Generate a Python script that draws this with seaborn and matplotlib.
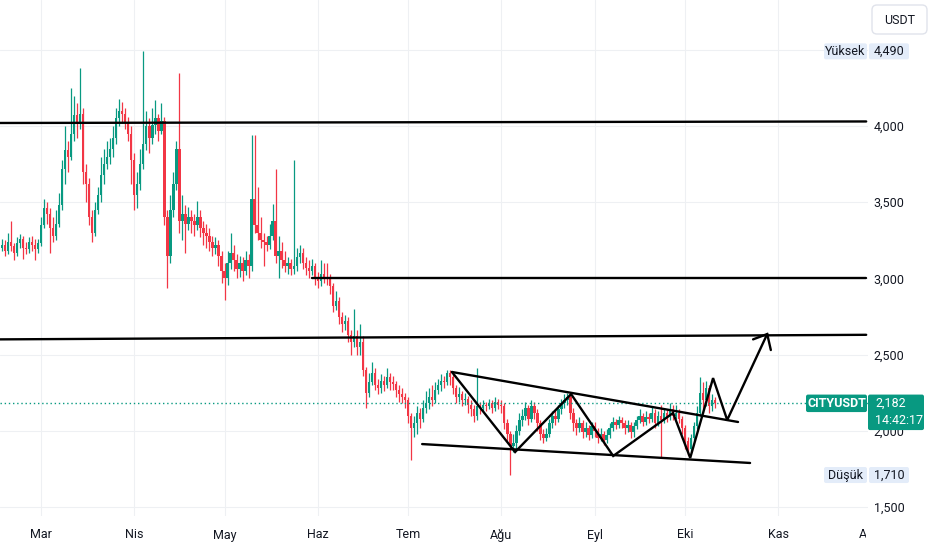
import numpy as np
import pandas as pd
import seaborn as sns
import matplotlib.pyplot as plt
from matplotlib.patches import FancyBboxPatch
from matplotlib.transforms import IdentityTransform, Bbox, TransformedBbox

W, H = 932, 550

# ---- daily candles (CITYUSDT, 1D) ----
start_date = pd.Timestamp("2024-02-16")
first_open = 3.18
closes = [
    3.20, 3.22, 3.18, 3.24, 3.21, 3.17, 3.23, 3.26, 3.20, 3.19,
    3.24, 3.22, 3.19, 3.23, 3.35, 3.46, 3.42, 3.33, 3.28, 3.36,
    3.48, 3.72, 3.84, 3.80, 3.95, 4.07, 4.02, 4.08, 3.70, 3.62,
    3.40, 3.30, 3.45, 3.55, 3.68, 3.75, 3.80, 3.85, 3.92, 4.05,
    4.10, 4.08, 4.02, 3.95, 3.78, 3.55, 3.62, 3.75, 3.88, 4.00,
    3.92, 4.01, 4.05, 3.97, 4.03, 3.40, 3.15, 3.45, 3.62, 3.85,
    3.38, 3.42, 3.36, 3.40, 3.38, 3.35, 3.40, 3.33, 3.30, 3.28,
    3.24, 3.20, 3.22, 3.15, 3.05, 3.00, 3.10, 3.17, 3.12, 3.06,
    3.10, 3.05, 3.12, 3.08, 3.52, 3.35, 3.30, 3.25, 3.24, 3.22,
    3.28, 3.38, 3.15, 3.18, 3.12, 3.08, 3.10, 3.06, 3.08, 3.14,
    3.17, 3.10, 3.07, 3.05, 3.08, 3.00, 2.98, 3.03, 3.01, 3.00,
    2.95, 2.82, 2.85, 2.75, 2.70, 2.72, 2.63, 2.58, 2.62, 2.55,
    2.58, 2.40, 2.25, 2.32, 2.38, 2.30, 2.28, 2.33, 2.30, 2.35,
    2.32, 2.31, 2.27, 2.24, 2.22, 2.20, 2.10, 2.02, 2.05, 2.12,
    2.08, 2.15, 2.18, 2.22, 2.20, 2.27, 2.30, 2.33, 2.32, 2.38,
    2.35, 2.28, 2.22, 2.24, 2.20, 2.21, 2.17, 2.14, 2.10, 2.16,
    2.15, 2.17, 2.16, 2.18, 2.15, 2.19, 2.17, 2.16, 2.05, 1.98,
    1.90, 1.92, 2.00, 2.07, 2.10, 2.15, 2.08, 2.16, 2.12, 2.05,
    1.98, 1.95, 1.98, 2.05, 2.10, 2.08, 2.14, 2.18, 2.20, 2.22,
    2.12, 2.05, 2.02, 2.05, 1.99, 2.02, 1.97, 2.03, 2.00, 1.95,
    1.98, 1.94, 1.97, 2.02, 2.06, 2.04, 2.07, 2.05, 2.02, 2.04,
    1.99, 2.03, 2.07, 2.10, 2.06, 2.09, 2.08, 2.12, 2.05, 2.10,
    2.07, 2.12, 2.09, 2.14, 2.10, 2.12, 2.08, 2.02, 1.93, 1.88,
    1.95, 2.03, 2.12, 2.25, 2.20, 2.28, 2.16, 2.20, 2.182,
]
highs = [
    3.24, 3.26, 3.25, 3.30, 3.38, 3.23, 3.27, 3.29, 3.28, 3.24,
    3.27, 3.28, 3.26, 3.26, 3.40, 3.52, 3.50, 3.46, 3.40, 3.45,
    3.56, 3.78, 4.00, 3.90, 4.25, 4.20, 4.15, 4.38, 4.12, 3.75,
    3.66, 3.45, 3.50, 3.60, 3.80, 3.85, 3.90, 3.92, 4.00, 4.12,
    4.18, 4.16, 4.12, 4.06, 4.00, 3.82, 3.70, 3.85, 4.49, 4.10,
    4.05, 4.12, 4.17, 4.08, 4.15, 4.06, 3.45, 3.55, 3.70, 3.90,
    4.35, 3.55, 3.48, 3.47, 3.45, 3.42, 3.51, 3.45, 3.38, 3.36,
    3.33, 3.28, 3.27, 3.25, 3.18, 3.10, 3.18, 3.30, 3.22, 3.16,
    3.15, 3.14, 3.18, 3.16, 3.94, 3.94, 3.60, 3.40, 3.30, 3.28,
    3.36, 3.49, 3.72, 3.28, 3.24, 3.18, 3.14, 3.13, 3.78, 3.20,
    3.22, 3.20, 3.14, 3.12, 3.13, 3.10, 3.04, 3.12, 3.10, 3.10,
    3.03, 2.97, 2.92, 2.88, 2.78, 2.76, 2.75, 2.66, 2.80, 2.66,
    2.70, 2.62, 2.42, 2.38, 2.45, 2.41, 2.34, 2.37, 2.36, 2.41,
    2.38, 2.36, 2.33, 2.30, 2.28, 2.25, 2.22, 2.12, 2.10, 2.16,
    2.15, 2.20, 2.26, 2.28, 2.30, 2.32, 2.34, 2.37, 2.36, 2.40,
    2.40, 2.37, 2.30, 2.29, 2.26, 2.25, 2.23, 2.20, 2.17, 2.41,
    2.19, 2.20, 2.19, 2.21, 2.20, 2.22, 2.21, 2.20, 2.18, 2.08,
    2.00, 1.98, 2.04, 2.12, 2.14, 2.19, 2.17, 2.20, 2.19, 2.14,
    2.07, 2.01, 2.02, 2.08, 2.13, 2.14, 2.17, 2.21, 2.24, 2.25,
    2.24, 2.15, 2.08, 2.09, 2.07, 2.06, 2.04, 2.06, 2.06, 2.02,
    2.02, 2.00, 2.01, 2.05, 2.09, 2.08, 2.10, 2.09, 2.07, 2.07,
    2.06, 2.06, 2.10, 2.14, 2.12, 2.13, 2.12, 2.16, 2.14, 2.13,
    2.17, 2.15, 2.14, 2.18, 2.17, 2.17, 2.14, 2.10, 2.04, 1.96,
    1.98, 2.06, 2.16, 2.35, 2.32, 2.33, 2.30, 2.24, 2.22,
]
lows = [
    3.15, 3.18, 3.15, 3.16, 3.18, 3.12, 3.15, 3.20, 3.13, 3.16,
    3.17, 3.18, 3.12, 3.17, 3.21, 3.33, 3.36, 3.17, 3.24, 3.25,
    3.34, 3.45, 3.62, 3.70, 3.78, 3.90, 3.92, 3.98, 3.62, 3.50,
    3.35, 3.24, 3.28, 3.42, 3.50, 3.62, 3.72, 3.75, 3.80, 3.88,
    4.00, 4.02, 3.98, 3.90, 3.62, 3.45, 3.46, 3.58, 3.72, 3.84,
    3.82, 3.88, 3.95, 3.90, 3.95, 3.35, 2.94, 3.10, 3.40, 3.58,
    3.30, 3.25, 3.17, 3.32, 3.30, 3.28, 3.32, 3.27, 3.22, 3.20,
    3.18, 3.15, 3.16, 3.08, 2.97, 2.86, 2.96, 3.06, 3.05, 3.00,
    3.01, 2.98, 3.02, 3.00, 3.05, 3.30, 3.25, 3.20, 3.08, 3.18,
    3.19, 3.25, 3.10, 3.00, 3.07, 3.04, 3.03, 3.02, 3.03, 3.05,
    3.10, 3.06, 3.02, 3.00, 3.02, 2.96, 2.94, 2.95, 2.97, 2.96,
    2.90, 2.78, 2.79, 2.70, 2.65, 2.66, 2.58, 2.50, 2.55, 2.50,
    2.50, 2.36, 2.15, 2.22, 2.30, 2.27, 2.24, 2.25, 2.26, 2.28,
    2.27, 2.27, 2.22, 2.19, 2.18, 2.15, 2.05, 1.81, 1.96, 1.98,
    2.02, 2.06, 2.12, 2.14, 2.16, 2.18, 2.24, 2.26, 2.28, 2.30,
    2.30, 2.24, 2.18, 2.19, 2.16, 2.17, 2.12, 2.10, 2.06, 2.07,
    2.11, 2.13, 2.13, 2.14, 2.12, 2.13, 2.14, 2.12, 2.01, 1.93,
    1.71, 1.86, 1.88, 1.97, 2.03, 2.07, 2.04, 2.06, 2.08, 2.00,
    1.94, 1.92, 1.93, 1.96, 2.02, 2.04, 2.06, 2.11, 2.15, 2.17,
    2.08, 2.00, 1.97, 1.99, 1.95, 1.96, 1.94, 1.95, 1.96, 1.92,
    1.93, 1.91, 1.92, 1.95, 2.00, 2.01, 2.02, 2.02, 1.98, 1.99,
    1.95, 1.96, 2.01, 2.05, 2.03, 2.04, 2.05, 2.06, 2.02, 2.03,
    1.83, 2.05, 2.06, 2.07, 2.07, 2.08, 2.05, 1.98, 1.88, 1.84,
    1.86, 1.93, 2.01, 2.10, 2.12, 2.16, 2.12, 2.13, 2.15,
]

month_starts = ["2024-03-01", "2024-04-01", "2024-05-01", "2024-06-01", "2024-07-01",
                "2024-08-01", "2024-09-01", "2024-10-01", "2024-11-01", "2024-12-01"]
month_labels = ["Mar", "Nis", "May", "Haz", "Tem", "Ağu", "Eyl", "Eki", "Kas", "Ara"]
price_ticks = [1.5, 2.0, 2.5, 3.0, 3.5, 4.0, 4.5]

last_price = 2.182
high_price = 4.490
low_price = 1.710
countdown = "14:42:17"

# ---- hand drawn lines: day offset from start_date, price ----
level_top_days = [0, 288.3]
level_top_prices = [4.02, 4.03]
level_mid_days = [104, 288.3]
level_mid_prices = [3.00, 3.00]
level_low_days = [0, 288.3]
level_low_prices = [2.60, 2.63]
wedge_top_days = [150.6, 245.7]
wedge_top_prices = [2.386, 2.058]
wedge_bottom_days = [140.7, 249.7]
wedge_bottom_prices = [1.913, 1.789]
zigzag_days = [150.6, 171.6, 190.2, 204.2, 224.1, 229.8, 237.4, 242.1, 255.4]
zigzag_prices = [2.386, 1.861, 2.241, 1.835, 2.117, 1.822, 2.346, 2.071, 2.635]
arrow_head_days = [250.7, 255.4, 256.6]
arrow_head_prices = [2.600, 2.635, 2.530]

GREEN = "#089981"
RED = "#f23645"
TXT = "#131722"

sns.set_theme(style="white")
plt.rcParams['font.family'] = ['Roboto', 'DejaVu Sans']

df = pd.DataFrame({'close': closes, 'high': highs, 'low': lows})
df['open'] = [first_open] + closes[:-1]
df['day'] = np.arange(len(df))
colors = np.where(df['close'] >= df['open'], GREEN, RED)

fig = plt.figure(figsize=(W / 100, H / 100), dpi=100)
ax = fig.add_axes([0, 34 / H, 868 / W, 516 / H])

# candles
ax.vlines(df['day'], df['low'], df['high'], colors=colors, lw=0.9, zorder=2)
body = (df['close'] - df['open']).abs().clip(lower=0.007)
ax.bar(df['day'], body, bottom=df[['open', 'close']].min(axis=1), width=0.8,
       color=colors, lw=0, zorder=3)

# last price dotted line
ax.axhline(last_price, color=GREEN, lw=1, ls=(0, (1, 2)), zorder=4)

# drawings
drawings = [
    (level_top_days, level_top_prices),
    (level_mid_days, level_mid_prices),
    (level_low_days, level_low_prices),
    (wedge_top_days, wedge_top_prices),
    (wedge_bottom_days, wedge_bottom_prices),
    (zigzag_days, zigzag_prices),
    (arrow_head_days, arrow_head_prices),
]
for d, p in drawings:
    sns.lineplot(x=d, y=p, sort=False, estimator=None, color='black', lw=1.7,
                 ax=ax, zorder=5, solid_capstyle='round', solid_joinstyle='miter')

month_pos = [(pd.Timestamp(m) - start_date).days for m in month_starts]
ax.set_xlim(0.37, 288.9)
ax.set_ylim(1.441, 4.827)

ax.set_xticks(month_pos[:-1])
ax.set_xticklabels(month_labels[:-1])
ax.yaxis.tick_right()
ax.set_yticks(price_ticks)
ax.set_yticklabels(['' if t == 4.5 else f"{t:.3f}".replace('.', ',') for t in price_ticks])
ax.tick_params(axis='x', length=0, pad=9, labelsize=9, colors=TXT)
ax.tick_params(axis='y', length=0, pad=4, labelsize=9, colors=TXT)
ax.grid(True, color='#eef0f3', lw=0.8)
ax.set_axisbelow(True)
for s in ax.spines.values():
    s.set_visible(False)
ax.set_xlabel('')
ax.set_ylabel('')

# last month label, clipped by the price scale like the original
x_ara = ax.transData.transform((month_pos[-1], 0))[0]
t = fig.text(x_ara / W, 1 - 528 / H, month_labels[-1], ha='center', va='top',
             fontsize=9, color=TXT)
t.set_clip_box(TransformedBbox(Bbox([[0, 0], [866, H]]), IdentityTransform()))
t.set_clip_on(True)


def price_px(p):
    return H - ax.transData.transform((0, p))[1]


def box(x0, y0, x1, y1, fc, ec='none', r=2.0):
    patch = FancyBboxPatch((x0, H - y1), x1 - x0, y1 - y0,
                           boxstyle=f"round,pad=0,rounding_size={r}",
                           fc=fc, ec=ec, lw=1, transform=IdentityTransform())
    fig.add_artist(patch)


def label(x, y, s, color=TXT, ha='center', weight='normal'):
    fig.text(x / W, 1 - y / H, s, ha=ha, va='center', fontsize=9, color=color,
             weight=weight, zorder=6)


# USDT button
box(872, 5, 927, 34, 'white', ec='#e0e3eb', r=5)
label(899.5, 20, "USDT")

# high / low labels
for name, val in [("Yüksek", high_price), ("Düşük", low_price)]:
    yc = price_px(val)
    box(824, yc - 8, 867, yc + 8, '#e3ecf9')
    box(869, yc - 8, 909, yc + 8, '#e3ecf9')
    label(845.5, yc, name)
    label(889, yc, f"{val:.3f}".replace('.', ','))

# last price labels
yc = price_px(last_price)
box(806, yc - 8.5, 867, yc + 9, GREEN)
label(836.5, yc + 0.5, "CITYUSDT", color='white', weight='semibold')
box(868, yc - 8.5, 924, yc + 27, GREEN)
label(875, yc + 0.5, f"{last_price:.3f}".replace('.', ','), color='white', ha='left')
label(875, yc + 17.5, countdown, color='white', ha='left')

fig.savefig('out.png', dpi=100)
